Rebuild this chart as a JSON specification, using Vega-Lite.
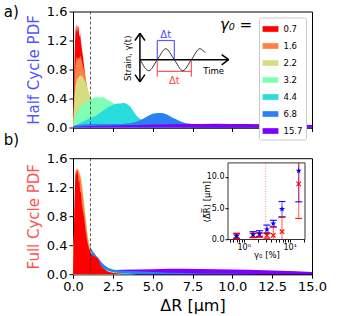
{
"$schema": "https://vega.github.io/schema/vega-lite/v6.json",
"padding": {"left": 3, "top": 3.5, "right": 5, "bottom": 5},
"config": {
  "font": "DejaVu Sans",
  "view": {"stroke": "black", "strokeWidth": 1},
  "axis": {"domainColor": "black", "tickColor": "black", "labelColor": "black", "titleColor": "black", "grid": false, "labelFont": "DejaVu Sans", "titleFont": "DejaVu Sans", "titleFontWeight": "normal", "domainWidth": 1, "tickWidth": 1, "zindex": 1, "labelOverlap": false, "labelFlush": false, "tickCount": 20}
},
"datasets": {
"half": [
{"g":"0.7","x":0,"y":0},{"g":"0.7","x":0.05,"y":0.45},{"g":"0.7","x":0.1,"y":1.0},{"g":"0.7","x":0.15,"y":1.32},{"g":"0.7","x":0.2,"y":1.43},{"g":"0.7","x":0.25,"y":1.3},{"g":"0.7","x":0.3,"y":1.41},{"g":"0.7","x":0.35,"y":1.38},{"g":"0.7","x":0.4,"y":1.25},{"g":"0.7","x":0.45,"y":1.3},{"g":"0.7","x":0.5,"y":1.18},{"g":"0.7","x":0.55,"y":1.1},{"g":"0.7","x":0.6,"y":1.02},{"g":"0.7","x":0.7,"y":0.85},{"g":"0.7","x":0.8,"y":0.65},{"g":"0.7","x":0.9,"y":0.5},{"g":"0.7","x":1.0,"y":0.38},{"g":"0.7","x":1.2,"y":0.22},{"g":"0.7","x":1.4,"y":0.12},{"g":"0.7","x":1.7,"y":0.05},{"g":"0.7","x":2.0,"y":0},
{"g":"1.6","x":0,"y":0},{"g":"1.6","x":0.05,"y":0.3},{"g":"1.6","x":0.1,"y":0.65},{"g":"1.6","x":0.15,"y":0.85},{"g":"1.6","x":0.2,"y":0.95},{"g":"1.6","x":0.25,"y":0.98},{"g":"1.6","x":0.3,"y":0.92},{"g":"1.6","x":0.35,"y":0.97},{"g":"1.6","x":0.4,"y":0.95},{"g":"1.6","x":0.45,"y":0.99},{"g":"1.6","x":0.5,"y":0.96},{"g":"1.6","x":0.6,"y":0.88},{"g":"1.6","x":0.7,"y":0.78},{"g":"1.6","x":0.8,"y":0.68},{"g":"1.6","x":0.9,"y":0.55},{"g":"1.6","x":1.0,"y":0.44},{"g":"1.6","x":1.2,"y":0.3},{"g":"1.6","x":1.4,"y":0.2},{"g":"1.6","x":1.7,"y":0.12},{"g":"1.6","x":2.0,"y":0.07},{"g":"1.6","x":2.5,"y":0.03},{"g":"1.6","x":3.0,"y":0},
{"g":"2.2","x":0,"y":0},{"g":"2.2","x":0.05,"y":0.2},{"g":"2.2","x":0.1,"y":0.42},{"g":"2.2","x":0.15,"y":0.55},{"g":"2.2","x":0.2,"y":0.63},{"g":"2.2","x":0.3,"y":0.68},{"g":"2.2","x":0.4,"y":0.71},{"g":"2.2","x":0.5,"y":0.72},{"g":"2.2","x":0.6,"y":0.7},{"g":"2.2","x":0.7,"y":0.66},{"g":"2.2","x":0.8,"y":0.62},{"g":"2.2","x":0.9,"y":0.55},{"g":"2.2","x":1.0,"y":0.48},{"g":"2.2","x":1.1,"y":0.42},{"g":"2.2","x":1.2,"y":0.37},{"g":"2.2","x":1.4,"y":0.3},{"g":"2.2","x":1.6,"y":0.24},{"g":"2.2","x":1.8,"y":0.19},{"g":"2.2","x":2.0,"y":0.15},{"g":"2.2","x":2.5,"y":0.08},{"g":"2.2","x":3.0,"y":0.04},{"g":"2.2","x":3.5,"y":0.02},{"g":"2.2","x":4.0,"y":0},
{"g":"3.2","x":0,"y":0},{"g":"3.2","x":0.1,"y":0.12},{"g":"3.2","x":0.2,"y":0.2},{"g":"3.2","x":0.3,"y":0.24},{"g":"3.2","x":0.5,"y":0.29},{"g":"3.2","x":0.7,"y":0.33},{"g":"3.2","x":0.9,"y":0.36},{"g":"3.2","x":1.1,"y":0.39},{"g":"3.2","x":1.3,"y":0.41},{"g":"3.2","x":1.5,"y":0.42},{"g":"3.2","x":1.7,"y":0.41},{"g":"3.2","x":1.9,"y":0.42},{"g":"3.2","x":2.1,"y":0.39},{"g":"3.2","x":2.3,"y":0.37},{"g":"3.2","x":2.5,"y":0.34},{"g":"3.2","x":2.8,"y":0.29},{"g":"3.2","x":3.1,"y":0.23},{"g":"3.2","x":3.5,"y":0.16},{"g":"3.2","x":4.0,"y":0.09},{"g":"3.2","x":4.5,"y":0.05},{"g":"3.2","x":5.0,"y":0.03},{"g":"3.2","x":6.0,"y":0.01},{"g":"3.2","x":7.0,"y":0},
{"g":"4.4","x":0,"y":0.02},{"g":"4.4","x":0.3,"y":0.05},{"g":"4.4","x":0.6,"y":0.08},{"g":"4.4","x":0.9,"y":0.11},{"g":"4.4","x":1.2,"y":0.14},{"g":"4.4","x":1.5,"y":0.17},{"g":"4.4","x":1.8,"y":0.22},{"g":"4.4","x":2.0,"y":0.25},{"g":"4.4","x":2.2,"y":0.28},{"g":"4.4","x":2.4,"y":0.3},{"g":"4.4","x":2.6,"y":0.32},{"g":"4.4","x":2.8,"y":0.33},{"g":"4.4","x":3.0,"y":0.33},{"g":"4.4","x":3.2,"y":0.34},{"g":"4.4","x":3.4,"y":0.32},{"g":"4.4","x":3.6,"y":0.29},{"g":"4.4","x":3.8,"y":0.22},{"g":"4.4","x":4.0,"y":0.16},{"g":"4.4","x":4.2,"y":0.12},{"g":"4.4","x":4.5,"y":0.08},{"g":"4.4","x":5.0,"y":0.05},{"g":"4.4","x":5.5,"y":0.03},{"g":"4.4","x":6.0,"y":0.02},{"g":"4.4","x":7.0,"y":0.01},{"g":"4.4","x":8.0,"y":0},
{"g":"6.8","x":0,"y":0.02},{"g":"6.8","x":0.5,"y":0.04},{"g":"6.8","x":1.0,"y":0.05},{"g":"6.8","x":1.5,"y":0.05},{"g":"6.8","x":2.0,"y":0.05},{"g":"6.8","x":2.5,"y":0.05},{"g":"6.8","x":3.0,"y":0.05},{"g":"6.8","x":3.5,"y":0.06},{"g":"6.8","x":3.8,"y":0.07},{"g":"6.8","x":4.1,"y":0.09},{"g":"6.8","x":4.4,"y":0.12},{"g":"6.8","x":4.7,"y":0.16},{"g":"6.8","x":5.0,"y":0.19},{"g":"6.8","x":5.3,"y":0.2},{"g":"6.8","x":5.6,"y":0.2},{"g":"6.8","x":5.9,"y":0.18},{"g":"6.8","x":6.2,"y":0.14},{"g":"6.8","x":6.5,"y":0.11},{"g":"6.8","x":6.8,"y":0.08},{"g":"6.8","x":7.1,"y":0.06},{"g":"6.8","x":7.5,"y":0.05},{"g":"6.8","x":8.0,"y":0.045},{"g":"6.8","x":9.0,"y":0.04},{"g":"6.8","x":10.0,"y":0.035},{"g":"6.8","x":11.0,"y":0.03},{"g":"6.8","x":12.0,"y":0.03},{"g":"6.8","x":13.0,"y":0.025},{"g":"6.8","x":14.0,"y":0.02},{"g":"6.8","x":15.0,"y":0.02},
{"g":"15.7","x":0,"y":0.01},{"g":"15.7","x":0.5,"y":0.015},{"g":"15.7","x":1,"y":0.02},{"g":"15.7","x":2,"y":0.025},{"g":"15.7","x":3,"y":0.03},{"g":"15.7","x":4,"y":0.035},{"g":"15.7","x":5,"y":0.04},{"g":"15.7","x":6,"y":0.045},{"g":"15.7","x":7,"y":0.05},{"g":"15.7","x":8,"y":0.05},{"g":"15.7","x":9,"y":0.052},{"g":"15.7","x":10,"y":0.05},{"g":"15.7","x":11,"y":0.048},{"g":"15.7","x":12,"y":0.045},{"g":"15.7","x":13,"y":0.042},{"g":"15.7","x":14,"y":0.04},{"g":"15.7","x":15,"y":0.035}
],
"full": [
{"g":"15.7","x":0,"y":0.02},{"g":"15.7","x":1,"y":0.03},{"g":"15.7","x":2,"y":0.045},{"g":"15.7","x":2.5,"y":0.055},{"g":"15.7","x":3,"y":0.06},{"g":"15.7","x":4,"y":0.065},{"g":"15.7","x":5,"y":0.07},{"g":"15.7","x":6,"y":0.075},{"g":"15.7","x":7,"y":0.076},{"g":"15.7","x":8,"y":0.072},{"g":"15.7","x":9,"y":0.07},{"g":"15.7","x":10,"y":0.066},{"g":"15.7","x":11,"y":0.06},{"g":"15.7","x":12,"y":0.055},{"g":"15.7","x":13,"y":0.048},{"g":"15.7","x":14,"y":0.04},{"g":"15.7","x":15,"y":0.03},
{"g":"6.8","x":0,"y":0.1},{"g":"6.8","x":0.1,"y":0.6},{"g":"6.8","x":0.2,"y":1.1},{"g":"6.8","x":0.3,"y":1.3},{"g":"6.8","x":0.4,"y":1.25},{"g":"6.8","x":0.5,"y":1.1},{"g":"6.8","x":0.6,"y":0.95},{"g":"6.8","x":0.7,"y":0.8},{"g":"6.8","x":0.8,"y":0.65},{"g":"6.8","x":0.9,"y":0.5},{"g":"6.8","x":1.0,"y":0.42},{"g":"6.8","x":1.1,"y":0.37},{"g":"6.8","x":1.2,"y":0.33},{"g":"6.8","x":1.4,"y":0.27},{"g":"6.8","x":1.6,"y":0.22},{"g":"6.8","x":1.8,"y":0.16},{"g":"6.8","x":2.0,"y":0.12},{"g":"6.8","x":2.2,"y":0.09},{"g":"6.8","x":2.5,"y":0.065},{"g":"6.8","x":3.0,"y":0.05},{"g":"6.8","x":3.5,"y":0.045},{"g":"6.8","x":4.0,"y":0.04},{"g":"6.8","x":5.0,"y":0.03},{"g":"6.8","x":6.0,"y":0.02},{"g":"6.8","x":8.0,"y":0.01},{"g":"6.8","x":10.0,"y":0.005},{"g":"6.8","x":12.0,"y":0},
{"g":"4.4","x":0,"y":0.05},{"g":"4.4","x":0.1,"y":0.7},{"g":"4.4","x":0.2,"y":1.2},{"g":"4.4","x":0.3,"y":1.35},{"g":"4.4","x":0.4,"y":1.3},{"g":"4.4","x":0.5,"y":1.2},{"g":"4.4","x":0.6,"y":1.05},{"g":"4.4","x":0.7,"y":0.9},{"g":"4.4","x":0.8,"y":0.72},{"g":"4.4","x":0.9,"y":0.55},{"g":"4.4","x":1.0,"y":0.42},{"g":"4.4","x":1.1,"y":0.33},{"g":"4.4","x":1.2,"y":0.27},{"g":"4.4","x":1.4,"y":0.2},{"g":"4.4","x":1.6,"y":0.15},{"g":"4.4","x":1.8,"y":0.1},{"g":"4.4","x":2.0,"y":0.07},{"g":"4.4","x":2.5,"y":0.03},{"g":"4.4","x":3.0,"y":0.015},{"g":"4.4","x":4.0,"y":0},
{"g":"3.2","x":0,"y":0.05},{"g":"3.2","x":0.1,"y":0.8},{"g":"3.2","x":0.2,"y":1.25},{"g":"3.2","x":0.3,"y":1.38},{"g":"3.2","x":0.4,"y":1.35},{"g":"3.2","x":0.5,"y":1.25},{"g":"3.2","x":0.6,"y":1.1},{"g":"3.2","x":0.7,"y":0.98},{"g":"3.2","x":0.8,"y":0.78},{"g":"3.2","x":0.9,"y":0.58},{"g":"3.2","x":1.0,"y":0.43},{"g":"3.2","x":1.1,"y":0.33},{"g":"3.2","x":1.2,"y":0.26},{"g":"3.2","x":1.4,"y":0.19},{"g":"3.2","x":1.6,"y":0.13},{"g":"3.2","x":1.8,"y":0.09},{"g":"3.2","x":2.0,"y":0.06},{"g":"3.2","x":2.5,"y":0.025},{"g":"3.2","x":3.0,"y":0.01},{"g":"3.2","x":4.0,"y":0},
{"g":"2.2","x":0,"y":0.05},{"g":"2.2","x":0.1,"y":0.9},{"g":"2.2","x":0.2,"y":1.35},{"g":"2.2","x":0.3,"y":1.44},{"g":"2.2","x":0.4,"y":1.42},{"g":"2.2","x":0.5,"y":1.35},{"g":"2.2","x":0.6,"y":1.18},{"g":"2.2","x":0.7,"y":0.98},{"g":"2.2","x":0.8,"y":0.76},{"g":"2.2","x":0.9,"y":0.55},{"g":"2.2","x":1.0,"y":0.42},{"g":"2.2","x":1.1,"y":0.33},{"g":"2.2","x":1.2,"y":0.26},{"g":"2.2","x":1.4,"y":0.19},{"g":"2.2","x":1.6,"y":0.13},{"g":"2.2","x":1.8,"y":0.08},{"g":"2.2","x":2.0,"y":0.05},{"g":"2.2","x":2.5,"y":0.02},{"g":"2.2","x":3.0,"y":0},
{"g":"1.6","x":0,"y":0.05},{"g":"1.6","x":0.1,"y":0.95},{"g":"1.6","x":0.2,"y":1.4},{"g":"1.6","x":0.3,"y":1.46},{"g":"1.6","x":0.4,"y":1.38},{"g":"1.6","x":0.5,"y":1.3},{"g":"1.6","x":0.6,"y":1.12},{"g":"1.6","x":0.7,"y":0.92},{"g":"1.6","x":0.8,"y":0.72},{"g":"1.6","x":0.9,"y":0.53},{"g":"1.6","x":1.0,"y":0.4},{"g":"1.6","x":1.1,"y":0.32},{"g":"1.6","x":1.2,"y":0.26},{"g":"1.6","x":1.4,"y":0.2},{"g":"1.6","x":1.6,"y":0.14},{"g":"1.6","x":1.8,"y":0.09},{"g":"1.6","x":2.0,"y":0.05},{"g":"1.6","x":2.5,"y":0.02},{"g":"1.6","x":3.0,"y":0},
{"g":"0.7","x":0,"y":0},{"g":"0.7","x":0.05,"y":0.5},{"g":"0.7","x":0.1,"y":1.05},{"g":"0.7","x":0.15,"y":1.38},{"g":"0.7","x":0.2,"y":1.47},{"g":"0.7","x":0.25,"y":1.36},{"g":"0.7","x":0.3,"y":1.44},{"g":"0.7","x":0.35,"y":1.26},{"g":"0.7","x":0.4,"y":1.3},{"g":"0.7","x":0.45,"y":1.12},{"g":"0.7","x":0.5,"y":1.14},{"g":"0.7","x":0.55,"y":0.98},{"g":"0.7","x":0.6,"y":0.9},{"g":"0.7","x":0.7,"y":0.78},{"g":"0.7","x":0.8,"y":0.58},{"g":"0.7","x":0.9,"y":0.44},{"g":"0.7","x":1.0,"y":0.35},{"g":"0.7","x":1.1,"y":0.3},{"g":"0.7","x":1.2,"y":0.27},{"g":"0.7","x":1.3,"y":0.25},{"g":"0.7","x":1.5,"y":0.23},{"g":"0.7","x":1.6,"y":0.2},{"g":"0.7","x":1.7,"y":0.14},{"g":"0.7","x":1.8,"y":0.1},{"g":"0.7","x":2.0,"y":0.065},{"g":"0.7","x":2.2,"y":0.035},{"g":"0.7","x":2.5,"y":0.015},{"g":"0.7","x":3.0,"y":0.005},{"g":"0.7","x":3.5,"y":0}
],
"seg": [
{"p":"ax","x":4.2,"y":1.3,"x2":4.2,"y2":0.63},
{"p":"ax","x":3.89,"y":1.2,"x2":4.2,"y2":1.3},
{"p":"ax","x":4.51,"y":1.2,"x2":4.2,"y2":1.3},
{"p":"ax","x":3.89,"y":0.73,"x2":4.2,"y2":0.63},
{"p":"ax","x":4.51,"y":0.73,"x2":4.2,"y2":0.63},
{"p":"ax","x":4.2,"y":0.935,"x2":9.77,"y2":0.935},
{"p":"ax","x":9.33,"y":1.005,"x2":9.77,"y2":0.935},
{"p":"ax","x":9.33,"y":0.865,"x2":9.77,"y2":0.935},
{"p":"half","x":5.29,"y":0.935,"x2":5.29,"y2":1.2},
{"p":"half","x":6.36,"y":0.935,"x2":6.36,"y2":1.2},
{"p":"half","x":5.29,"y":1.2,"x2":6.36,"y2":1.2},
{"p":"full","x":5.29,"y":0.935,"x2":5.29,"y2":0.7},
{"p":"full","x":7.43,"y":0.935,"x2":7.43,"y2":0.7},
{"p":"full","x":5.29,"y":0.775,"x2":7.43,"y2":0.775}
],
"sine": [
{"x":4.22,"y":0.935},{"x":4.76,"y":0.783},{"x":5.29,"y":0.935},{"x":5.82,"y":1.087},{"x":6.36,"y":0.935},{"x":6.89,"y":0.783},{"x":7.43,"y":0.935},{"x":7.96,"y":1.087},{"x":8.29,"y":1.03}
],
"inset": [
{"s":"Rev.+Irr.","g":0.7,"m":0.55,"lo":0.2,"hi":0.9},
{"s":"Rev.+Irr.","g":1.6,"m":0.8,"lo":0.35,"hi":1.25},
{"s":"Rev.+Irr.","g":2.2,"m":0.95,"lo":0.5,"hi":1.4},
{"s":"Rev.+Irr.","g":3.2,"m":1.6,"lo":0.95,"hi":2.3},
{"s":"Rev.+Irr.","g":4.4,"m":2.55,"lo":2.0,"hi":3.05},
{"s":"Rev.+Irr.","g":6.8,"m":4.85,"lo":3.6,"hi":6.05},
{"s":"Rev.+Irr.","g":15.7,"m":10.95,"lo":6.0,"hi":15.9},
{"s":"Irr.","g":0.7,"m":0.6,"lo":0.15,"hi":1.0},
{"s":"Irr.","g":1.6,"m":0.65,"lo":0.3,"hi":1.0},
{"s":"Irr.","g":2.2,"m":0.7,"lo":0.35,"hi":1.05},
{"s":"Irr.","g":3.2,"m":0.65,"lo":0.2,"hi":1.1},
{"s":"Irr.","g":4.4,"m":0.65,"lo":-0.7,"hi":2.0},
{"s":"Irr.","g":6.8,"m":1.25,"lo":-1.05,"hi":3.55},
{"s":"Irr.","g":15.7,"m":8.85,"lo":3.35,"hi":14.35}
]
},
"bounds": "flush",
"spacing": 30.7,
"resolve": {"scale": {"color": "independent", "x": "independent", "y": "independent"}},
"vconcat": [
{
 "width": 239, "height": 116,
 "layer": [
  {
   "data": {"name": "half"},
   "mark": {"type": "area"},
   "encoding": {
    "x": {"field": "x", "type": "quantitative", "scale": {"domain": [0, 15], "nice": false, "zero": false}, "axis": {"values": [0, 2.5, 5, 7.5, 10, 12.5, 15], "tickCount": 20, "labels": false, "title": null, "tickSize": 4, "labelOverlap": false}},
    "y": {"field": "y", "type": "quantitative", "stack": null, "scale": {"domain": [0, 1.6], "nice": false}, "axis": {"values": [0, 0.4, 0.8, 1.2, 1.6], "tickCount": 20, "format": ".1f", "labelFontSize": 13, "tickSize": 4, "labelPadding": 2, "labelOverlap": false, "title": "Half Cycle PDF", "titleFontSize": 15, "titleColor": "#5353ff", "titlePadding": 5}},
    "color": {"field": "g", "type": "nominal", "scale": {"domain": ["0.7", "1.6", "2.2", "3.2", "4.4", "6.8", "15.7"], "range": ["#ff0000", "#ff8042", "#d4dd80", "#80ffb4", "#2adddd", "#2a80f6", "#8000ff"]},
     "legend": {"orient": "top-right", "offset": 6, "title": null, "symbolType": "M-1,-0.36H1V0.36H-1Z", "symbolSize": 250, "symbolStrokeWidth": 0, "labelFontSize": 8.5, "labelOffset": 5, "rowPadding": 4, "padding": 3.5, "strokeColor": "#cccccc", "fillColor": "white", "cornerRadius": 2}}
   }
  },
  {
   "data": {"values": [{}]},
   "mark": {"type": "rule", "color": "#333333", "strokeWidth": 0.8, "strokeDash": [3, 2]},
   "encoding": {"x": {"datum": 1.1}}
  },
  {
   "data": {"name": "seg"},
   "transform": [{"filter": "datum.p == 'ax'"}],
   "mark": {"type": "rule", "color": "black", "strokeWidth": 1.5},
   "encoding": {"x": {"field": "x", "type": "quantitative"}, "y": {"field": "y", "type": "quantitative"}, "x2": {"field": "x2"}, "y2": {"field": "y2"}}
  },
  {
   "data": {"name": "seg"},
   "transform": [{"filter": "datum.p == 'half'"}],
   "mark": {"type": "rule", "color": "#5a5aff", "strokeWidth": 1.2},
   "encoding": {"x": {"field": "x", "type": "quantitative"}, "y": {"field": "y", "type": "quantitative"}, "x2": {"field": "x2"}, "y2": {"field": "y2"}}
  },
  {
   "data": {"name": "seg"},
   "transform": [{"filter": "datum.p == 'full'"}],
   "mark": {"type": "rule", "color": "#ff5a5a", "strokeWidth": 1.2},
   "encoding": {"x": {"field": "x", "type": "quantitative"}, "y": {"field": "y", "type": "quantitative"}, "x2": {"field": "x2"}, "y2": {"field": "y2"}}
  },
  {
   "data": {"name": "sine"},
   "mark": {"type": "line", "interpolate": "monotone", "color": "black", "strokeWidth": 0.8},
   "encoding": {"x": {"field": "x", "type": "quantitative"}, "y": {"field": "y", "type": "quantitative"}}
  },
  {
   "data": {"values": [{}]},
   "mark": {"type": "text", "text": "Strain, γ(t)", "angle": 270, "fontSize": 8.5, "align": "center", "baseline": "middle", "color": "black"},
   "encoding": {"x": {"datum": 3.45}, "y": {"datum": 0.955}}
  },
  {
   "data": {"values": [{}]},
   "mark": {"type": "text", "text": "Time", "fontSize": 8.5, "align": "center", "baseline": "middle", "color": "black"},
   "encoding": {"x": {"datum": 8.83}, "y": {"datum": 0.78}}
  },
  {
   "data": {"values": [{}]},
   "mark": {"type": "text", "text": "Δt", "fontSize": 10, "align": "center", "baseline": "middle", "color": "#4646ff"},
   "encoding": {"x": {"datum": 5.82}, "y": {"datum": 1.28}}
  },
  {
   "data": {"values": [{}]},
   "mark": {"type": "text", "text": "Δt", "fontSize": 10, "align": "center", "baseline": "middle", "color": "#ff4646"},
   "encoding": {"x": {"datum": 6.36}, "y": {"datum": 0.64}}
  },
  {
   "data": {"values": [{}]},
   "mark": {"type": "text", "text": "γ₀ =", "fontSize": 15, "fontStyle": "italic", "align": "center", "baseline": "middle", "color": "black"},
   "encoding": {"x": {"datum": 10.23}, "y": {"datum": 1.41}}
  },
  {
   "data": {"values": [{}]},
   "mark": {"type": "text", "text": "a)", "fontSize": 15, "align": "left", "baseline": "middle", "color": "black"},
   "encoding": {"x": {"datum": -4.35}, "y": {"datum": 1.6}}
  }
 ]
},
{
 "width": 239, "height": 116,
 "resolve": {"scale": {"x": "independent", "y": "independent", "color": "independent"}, "axis": {"x": "independent", "y": "independent"}},
 "layer": [
  {
   "layer": [
    {
     "data": {"name": "full"},
     "mark": {"type": "area"},
     "encoding": {
      "x": {"field": "x", "type": "quantitative", "scale": {"domain": [0, 15], "nice": false, "zero": false}, "axis": {"orient": "bottom", "values": [0, 2.5, 5, 7.5, 10, 12.5, 15], "tickCount": 20, "format": ".1f", "labelFontSize": 13, "tickSize": 4, "labelPadding": 2, "labelOverlap": false, "labelFlush": false, "title": "ΔR [μm]", "titleFontSize": 16, "titlePadding": 4}},
      "y": {"field": "y", "type": "quantitative", "stack": null, "scale": {"domain": [0, 1.6], "nice": false}, "axis": {"orient": "left", "values": [0, 0.4, 0.8, 1.2, 1.6], "tickCount": 20, "format": ".1f", "labelFontSize": 13, "tickSize": 4, "labelPadding": 2, "labelOverlap": false, "title": "Full Cycle PDF", "titleFontSize": 15, "titleColor": "#ff5353", "titlePadding": 5}},
      "color": {"field": "g", "type": "nominal", "scale": {"domain": ["0.7", "1.6", "2.2", "3.2", "4.4", "6.8", "15.7"], "range": ["#ff0000", "#ff8042", "#d4dd80", "#80ffb4", "#2adddd", "#2a80f6", "#8000ff"]}, "legend": null}
     }
    },
    {
     "data": {"values": [{}]},
     "mark": {"type": "rule", "color": "#333333", "strokeWidth": 0.8, "strokeDash": [3, 2]},
     "encoding": {"x": {"datum": 1.1}}
    },
    {
     "data": {"values": [{}]},
     "mark": {"type": "text", "text": "b)", "fontSize": 15, "align": "left", "baseline": "middle", "color": "black"},
     "encoding": {"x": {"datum": -4.35}, "y": {"datum": 1.848}}
    }
   ]
  },
  {
   "layer": [
    {
     "data": {"values": [{}]},
     "mark": {"type": "rect", "fill": "white", "stroke": "black", "strokeWidth": 0.8},
     "encoding": {"x": {"datum": 0.456}, "x2": {"datum": 21.5}, "y": {"datum": 0}, "y2": {"datum": 12.2}}
    },
    {
     "data": {"values": [{}]},
     "mark": {"type": "rule", "color": "#ff3030", "strokeWidth": 0.8, "strokeDash": [1, 1.5], "opacity": 0.7},
     "encoding": {"x": {"datum": 3.0}, "y": {"datum": 0}, "y2": {"datum": 12.2}}
    },
    {
     "data": {"name": "inset"},
     "mark": {"type": "rule", "strokeWidth": 1.2, "opacity": 0.55},
     "encoding": {
      "x": {"field": "g", "type": "quantitative"},
      "y": {"field": "lo", "type": "quantitative"},
      "y2": {"field": "hi"},
      "color": {"field": "s", "type": "nominal", "legend": null}
     }
    },
    {
     "data": {"name": "inset"},
     "transform": [{"filter": "datum.lo >= 0"}],
     "mark": {"type": "tick", "orient": "horizontal", "size": 7, "thickness": 1.2, "opacity": 0.9},
     "encoding": {
      "x": {"field": "g", "type": "quantitative"},
      "y": {"field": "lo", "type": "quantitative"},
      "color": {"field": "s", "type": "nominal", "legend": null}
     }
    },
    {
     "data": {"name": "inset"},
     "transform": [{"filter": "datum.hi <= 12.2"}],
     "mark": {"type": "tick", "orient": "horizontal", "size": 7, "thickness": 1.2, "opacity": 0.9},
     "encoding": {
      "x": {"field": "g", "type": "quantitative"},
      "y": {"field": "hi", "type": "quantitative"},
      "color": {"field": "s", "type": "nominal", "legend": null}
     }
    },
    {
     "data": {"name": "inset"},
     "transform": [{"filter": "datum.s == 'Irr.'"}],
     "mark": {"type": "point", "filled": true, "opacity": 1, "size": 28, "shape": "M-1,-0.7L-0.7,-1L0,-0.3L0.7,-1L1,-0.7L0.3,0L1,0.7L0.7,1L0,0.3L-0.7,1L-1,0.7L-0.3,0Z"},
     "encoding": {
      "x": {"field": "g", "type": "quantitative"},
      "y": {"field": "m", "type": "quantitative"},
      "color": {"field": "s", "type": "nominal"}
     }
    },
    {
     "data": {"name": "inset"},
     "transform": [{"filter": "datum.s == 'Rev.+Irr.'"}],
     "mark": {"type": "point", "filled": true, "opacity": 1, "size": 40, "shape": "M0,-1L0.235,-0.324L0.951,-0.309L0.38,0.124L0.588,0.809L0,0.4L-0.588,0.809L-0.38,0.124L-0.951,-0.309L-0.235,-0.324Z"},
     "encoding": {
      "x": {"field": "g", "type": "quantitative", "scale": {"type": "log", "domain": [0.456, 21.5], "range": [155, 232], "nice": false}, "axis": {"orient": "bottom", "offset": -34.7, "values": [0.5, 0.6, 0.7, 0.8, 0.9, 1, 2, 3, 4, 5, 6, 7, 8, 9, 10, 20], "tickCount": 40, "labelExpr": "datum.value == 1 ? '10⁰' : datum.value == 10 ? '10¹' : ''", "tickSize": 2.5, "labelFontSize": 8, "labelPadding": 1, "labelOverlap": false, "title": "γ₀ [%]", "titleFontSize": 8.5, "titleY": 14.5, "titleBaseline": "middle", "domain": false, "zindex": 1}},
      "y": {"field": "m", "type": "quantitative", "scale": {"domain": [0, 12.2], "range": [81.3, 4.7], "nice": false, "zero": false, "clamp": true}, "axis": {"orient": "left", "offset": -155, "values": [0, 5, 10], "tickCount": 20, "tickSize": 3, "labelFontSize": 8, "labelPadding": 1, "labelOverlap": false, "title": "⟨Δ̅R̅⟩ [μm]", "titleFontSize": 8.5, "titleX": -22, "titleBaseline": "middle", "domain": false, "zindex": 1}},
      "color": {"field": "s", "type": "nominal", "scale": {"domain": ["Rev.+Irr.", "Irr."], "range": ["#0000ff", "#ff0000"]},
       "legend": {"orient": "none", "legendX": 157, "legendY": 7, "title": null, "symbolType": "M-0.6,-1H0.6V-0.82H0.09V0.82H0.6V1H-0.6V0.82H-0.09V-0.82H-0.6ZM0,-0.5L0.5,0L0,0.5L-0.5,0Z", "symbolSize": 60, "symbolStrokeWidth": 0, "labelFontSize": 5, "labelOffset": 5, "rowPadding": 2, "padding": 3, "strokeColor": "#cccccc", "fillColor": "white", "cornerRadius": 2}}
     }
    }
   ]
  }
 ]
}
]
}
